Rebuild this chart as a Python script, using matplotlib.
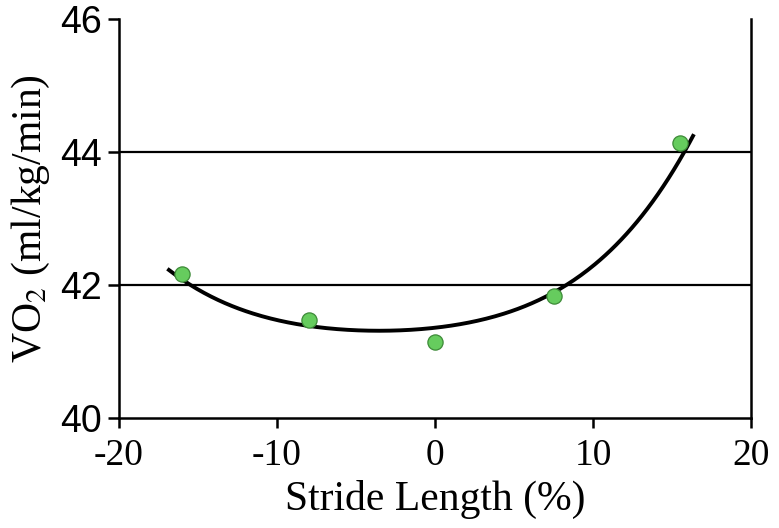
import numpy as np
from matplotlib import pyplot as plt

plt.rcParams['font.family'] = 'Liberation Serif'
plt.rcParams['mathtext.fontset'] = 'stix'
plt.rcParams['axes.unicode_minus'] = False

# measured points
stride = [-16, -8, 0, 7.5, 15.5]
vo2 = [42.17, 41.48, 41.15, 41.83, 44.14]

# trend line
curve_x = [-16.84, -15.6, -11.7, -7.9, -3.8, -2.2, 1.0, 2.05, 5.2, 8.0,
           10.0, 12.2, 14.25, 15.1, 15.7, 16.33]
curve_y = [42.22, 42.0, 41.65, 41.37, 41.28, 41.27, 41.40, 41.43, 41.68,
           42.0, 42.32, 42.72, 43.34, 43.71, 44.0, 44.29]

x_ticks = [-20, -10, 0, 10, 20]
y_ticks = [40, 42, 44, 46]

# smooth the read-off line
coef = np.polyfit(curve_x, curve_y, 4)
fit_x = np.linspace(curve_x[0], curve_x[-1], 300)
fit_y = np.polyval(coef, fit_x)

fig = plt.figure(figsize=(7.79, 5.28), dpi=100)
ax = fig.add_axes([119 / 779, 1 - 418 / 528, (751 - 119) / 779, (418 - 19) / 528])

for yv in [42, 44]:
    ax.axhline(yv, color='black', lw=1.6, zorder=1)
ax.plot(fit_x, fit_y, color='black', lw=2.8, zorder=2)
ax.scatter(stride, vo2, s=120, color='#66cc5e', edgecolor='#3d8a38',
           linewidth=0.9, zorder=3)

ax.set_xlim(-20, 20)
ax.set_ylim(40, 46)
ax.set_xticks(x_ticks)
ax.set_yticks(y_ticks)
ax.spines['top'].set_visible(False)
for s in ['left', 'bottom', 'right']:
    ax.spines[s].set_linewidth(1.8)
ax.tick_params(axis='x', labelsize=27, width=1.8, length=7.5, pad=7)
ax.tick_params(axis='y', labelsize=27, width=1.8, length=8, pad=4)
for lab in ax.get_yticklabels():
    lab.set_fontfamily('Liberation Sans')
ax.set_xlabel('Stride Length (%)', fontsize=30, labelpad=5)
ax.set_ylabel('VO$_2$ (ml/kg/min)', fontsize=30, labelpad=6)

fig.savefig('out.png', dpi=100)
